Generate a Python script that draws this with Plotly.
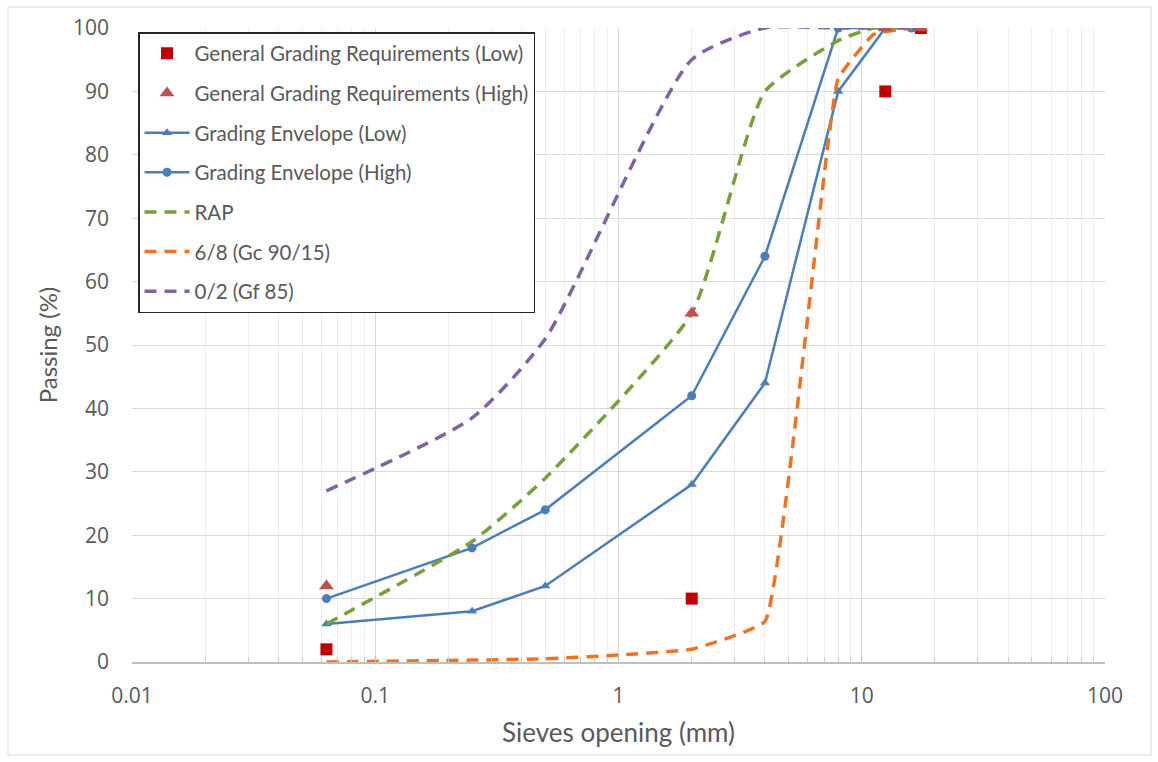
import plotly.graph_objects as go

# ---------------- data ----------------
ggr_low_x = [0.063, 2, 12.5, 17.5]
ggr_low_y = [2, 10, 90, 100]

ggr_high_x = [0.063, 2, 12.5, 17.5]
ggr_high_y = [12, 55, 100, 100]

env_low_x = [0.063, 0.25, 0.5, 2, 4, 8, 12.5, 16]
env_low_y = [6, 8, 12, 28, 44, 90, 100, 100]

env_high_x = [0.063, 0.25, 0.5, 2, 4, 8, 16]
env_high_y = [10, 18, 24, 42, 64, 100, 100]

rap_x = [0.063, 0.25, 0.5, 2, 4, 8, 11.2, 16]
rap_y = [6, 19, 29, 55, 90, 98, 100, 100]

g68_x = [0.063, 0.25, 0.5, 1, 2, 4, 8, 11.2, 16]
g68_y = [0, 0.3, 0.5, 1.1, 2, 6.4, 92, 99, 100]

g02_x = [0.063, 0.25, 0.5, 2, 4, 8, 16]
g02_y = [27, 38.5, 51, 95, 100, 100, 100]

x_tickvals = [0.01, 0.1, 1, 10, 100]
x_ticktext = ["0.01", "0.1", "1", "10", "100"]

# ---------------- style ----------------
BLUE = "#4A7EBB"
GREEN = "#77A03A"
ORANGE = "#EE7424"
PURPLE = "#8064A2"
RED_SQ = "#C00000"
RED_TRI = "#C0504D"
TXT = "#595959"
LEG_FONT = "Lato"
TICK_FONT = "Open Sans"
DASH = "12px,8px"

fig = go.Figure()

# lines first (drawn underneath), markers-only series last (drawn on top);
# legendrank keeps the reference legend order
fig.add_trace(go.Scatter(x=env_low_x, y=env_low_y, mode="lines+markers",
                         name="Grading Envelope (Low)", legendgroup="c", legendrank=3,
                         line=dict(color=BLUE, width=2.5),
                         marker=dict(symbol="triangle-up", size=9, color=BLUE)))
fig.add_trace(go.Scatter(x=env_high_x, y=env_high_y, mode="lines+markers",
                         name="Grading Envelope (High)", legendgroup="d", legendrank=4,
                         line=dict(color=BLUE, width=2.5),
                         marker=dict(symbol="circle", size=9, color=BLUE)))
fig.add_trace(go.Scatter(x=rap_x, y=rap_y, mode="lines", name="RAP", legendgroup="e", legendrank=5,
                         line=dict(color=GREEN, width=3.5, dash=DASH, shape="spline", smoothing=0.5)))
fig.add_trace(go.Scatter(x=g68_x, y=g68_y, mode="lines", name="6/8 (Gc 90/15)", legendgroup="f", legendrank=6,
                         line=dict(color=ORANGE, width=3.5, dash=DASH, shape="spline", smoothing=0.3)))
fig.add_trace(go.Scatter(x=g02_x, y=g02_y, mode="lines", name="0/2 (Gf 85)", legendgroup="g", legendrank=7,
                         line=dict(color=PURPLE, width=3.5, dash=DASH, shape="spline", smoothing=0.6)))
fig.add_trace(go.Scatter(x=ggr_low_x, y=ggr_low_y, mode="markers",
                         name="General Grading Requirements (Low)", legendgroup="a", legendrank=1,
                         marker=dict(symbol="square", size=12, color=RED_SQ)))
fig.add_trace(go.Scatter(x=ggr_high_x, y=ggr_high_y, mode="markers",
                         name="General Grading Requirements (High)", legendgroup="b", legendrank=2,
                         marker=dict(symbol="triangle-up", size=13, color=RED_TRI)))

# outer chart border (px converted to paper coords)
L, R, T, B = 132, 1105, 28, 662
def px_x(p):
    return (p - L) / (R - L)
def px_y(p):
    return (B - p) / (B - T)

fig.add_shape(type="rect", xref="paper", yref="paper",
              x0=px_x(8), x1=px_x(1151), y0=px_y(755), y1=px_y(7),
              line=dict(color="#D9D9D9", width=1), layer="below")

fig.update_layout(
    width=1158, height=762,
    margin=dict(l=L, r=1158 - R, t=T, b=762 - B),
    paper_bgcolor="white", plot_bgcolor="white",
    showlegend=True,
    legend=dict(x=px_x(138), y=px_y(32), xanchor="left", yanchor="top",
                bgcolor="white", bordercolor="#262626", borderwidth=1.5,
                font=dict(family=LEG_FONT, size=20.5, color=TXT),
                itemwidth=45, tracegroupgap=10, traceorder="grouped"),
    xaxis=dict(type="log", range=[-2, 2],
               tickvals=x_tickvals, ticktext=x_ticktext,
               tickfont=dict(family=TICK_FONT, size=21, color=TXT),
               ticklabelstandoff=14,
               showgrid=True, gridcolor="#D9D9D9", gridwidth=1,
               showline=True, linecolor="#BFBFBF", linewidth=1.5,
               ticks="inside", ticklen=6, tickcolor="#BFBFBF",
               minor=dict(dtick="D1", showgrid=True, gridcolor="#EDEDED",
                          ticks="inside", ticklen=5, tickcolor="#C8C8C8"),
               zeroline=False,
               title=dict(text="Sieves opening (mm)", standoff=16,
                          font=dict(family=LEG_FONT, size=26, color=TXT))),
    yaxis=dict(range=[0, 100], dtick=10,
               tickfont=dict(family=TICK_FONT, size=21, color=TXT),
               showgrid=True, gridcolor="#D9D9D9", gridwidth=1,
               showline=False, zeroline=False, ticks="", ticklabelstandoff=22,
               title=dict(text="Passing (%)", standoff=8,
                          font=dict(family=LEG_FONT, size=24, color=TXT))),
)

fig.write_html("out.html", config={"displayModeBar": False},
               post_script="document.body.style.margin='0';")
